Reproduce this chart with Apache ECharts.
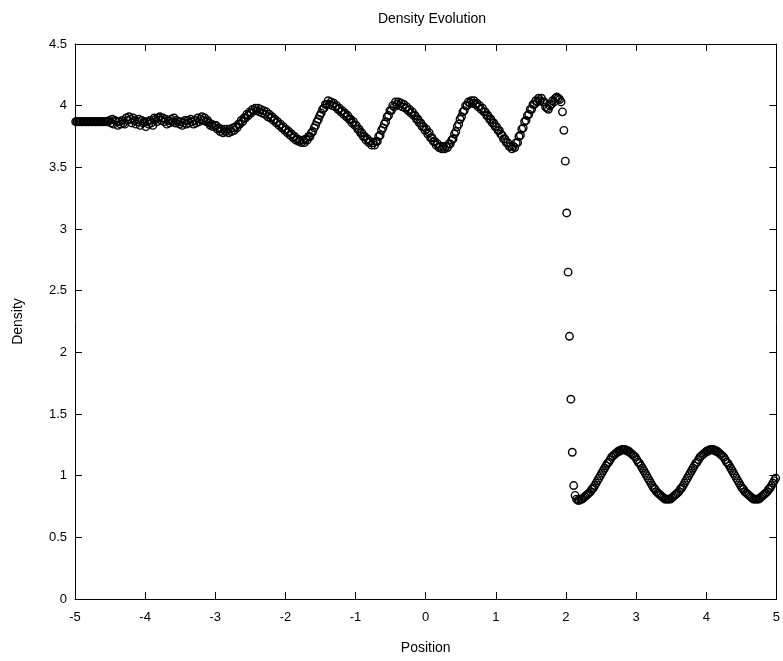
<!DOCTYPE html>
<html>
<head>
<meta charset="utf-8">
<title>Density Evolution</title>
<script src="https://cdn.jsdelivr.net/npm/echarts@6/dist/echarts.min.js"></script>
<style>
  html, body { margin: 0; padding: 0; background: #fff; }
  #chart { width: 783px; height: 661px; }
</style>
</head>
<body>
<div id="chart"></div>
<script>
// Cell-centre positions of the mesh (500 cells on [-5, 5])
const positions = [
  -4.99,-4.97,-4.95,-4.93,-4.91,-4.89,-4.87,-4.85,-4.83,-4.81,
  -4.79,-4.77,-4.75,-4.73,-4.71,-4.69,-4.67,-4.65,-4.63,-4.61,
  -4.59,-4.57,-4.55,-4.53,-4.51,-4.49,-4.47,-4.45,-4.43,-4.41,
  -4.39,-4.37,-4.35,-4.33,-4.31,-4.29,-4.27,-4.25,-4.23,-4.21,
  -4.19,-4.17,-4.15,-4.13,-4.11,-4.09,-4.07,-4.05,-4.03,-4.01,
  -3.99,-3.97,-3.95,-3.93,-3.91,-3.89,-3.87,-3.85,-3.83,-3.81,
  -3.79,-3.77,-3.75,-3.73,-3.71,-3.69,-3.67,-3.65,-3.63,-3.61,
  -3.59,-3.57,-3.55,-3.53,-3.51,-3.49,-3.47,-3.45,-3.43,-3.41,
  -3.39,-3.37,-3.35,-3.33,-3.31,-3.29,-3.27,-3.25,-3.23,-3.21,
  -3.19,-3.17,-3.15,-3.13,-3.11,-3.09,-3.07,-3.05,-3.03,-3.01,
  -2.99,-2.97,-2.95,-2.93,-2.91,-2.89,-2.87,-2.85,-2.83,-2.81,
  -2.79,-2.77,-2.75,-2.73,-2.71,-2.69,-2.67,-2.65,-2.63,-2.61,
  -2.59,-2.57,-2.55,-2.53,-2.51,-2.49,-2.47,-2.45,-2.43,-2.41,
  -2.39,-2.37,-2.35,-2.33,-2.31,-2.29,-2.27,-2.25,-2.23,-2.21,
  -2.19,-2.17,-2.15,-2.13,-2.11,-2.09,-2.07,-2.05,-2.03,-2.01,
  -1.99,-1.97,-1.95,-1.93,-1.91,-1.89,-1.87,-1.85,-1.83,-1.81,
  -1.79,-1.77,-1.75,-1.73,-1.71,-1.69,-1.67,-1.65,-1.63,-1.61,
  -1.59,-1.57,-1.55,-1.53,-1.51,-1.49,-1.47,-1.45,-1.43,-1.41,
  -1.39,-1.37,-1.35,-1.33,-1.31,-1.29,-1.27,-1.25,-1.23,-1.21,
  -1.19,-1.17,-1.15,-1.13,-1.11,-1.09,-1.07,-1.05,-1.03,-1.01,
  -0.99,-0.97,-0.95,-0.93,-0.91,-0.89,-0.87,-0.85,-0.83,-0.81,
  -0.79,-0.77,-0.75,-0.73,-0.71,-0.69,-0.67,-0.65,-0.63,-0.61,
  -0.59,-0.57,-0.55,-0.53,-0.51,-0.49,-0.47,-0.45,-0.43,-0.41,
  -0.39,-0.37,-0.35,-0.33,-0.31,-0.29,-0.27,-0.25,-0.23,-0.21,
  -0.19,-0.17,-0.15,-0.13,-0.11,-0.09,-0.07,-0.05,-0.03,-0.01,
  0.01,0.03,0.05,0.07,0.09,0.11,0.13,0.15,0.17,0.19,
  0.21,0.23,0.25,0.27,0.29,0.31,0.33,0.35,0.37,0.39,
  0.41,0.43,0.45,0.47,0.49,0.51,0.53,0.55,0.57,0.59,
  0.61,0.63,0.65,0.67,0.69,0.71,0.73,0.75,0.77,0.79,
  0.81,0.83,0.85,0.87,0.89,0.91,0.93,0.95,0.97,0.99,
  1.01,1.03,1.05,1.07,1.09,1.11,1.13,1.15,1.17,1.19,
  1.21,1.23,1.25,1.27,1.29,1.31,1.33,1.35,1.37,1.39,
  1.41,1.43,1.45,1.47,1.49,1.51,1.53,1.55,1.57,1.59,
  1.61,1.63,1.65,1.67,1.69,1.71,1.73,1.75,1.77,1.79,
  1.81,1.83,1.85,1.87,1.89,1.91,1.93,1.95,1.97,1.99,
  2.01,2.03,2.05,2.07,2.09,2.11,2.13,2.15,2.17,2.19,
  2.21,2.23,2.25,2.27,2.29,2.31,2.33,2.35,2.37,2.39,
  2.41,2.43,2.45,2.47,2.49,2.51,2.53,2.55,2.57,2.59,
  2.61,2.63,2.65,2.67,2.69,2.71,2.73,2.75,2.77,2.79,
  2.81,2.83,2.85,2.87,2.89,2.91,2.93,2.95,2.97,2.99,
  3.01,3.03,3.05,3.07,3.09,3.11,3.13,3.15,3.17,3.19,
  3.21,3.23,3.25,3.27,3.29,3.31,3.33,3.35,3.37,3.39,
  3.41,3.43,3.45,3.47,3.49,3.51,3.53,3.55,3.57,3.59,
  3.61,3.63,3.65,3.67,3.69,3.71,3.73,3.75,3.77,3.79,
  3.81,3.83,3.85,3.87,3.89,3.91,3.93,3.95,3.97,3.99,
  4.01,4.03,4.05,4.07,4.09,4.11,4.13,4.15,4.17,4.19,
  4.21,4.23,4.25,4.27,4.29,4.31,4.33,4.35,4.37,4.39,
  4.41,4.43,4.45,4.47,4.49,4.51,4.53,4.55,4.57,4.59,
  4.61,4.63,4.65,4.67,4.69,4.71,4.73,4.75,4.77,4.79,
  4.81,4.83,4.85,4.87,4.89,4.91,4.93,4.95,4.97,4.99
];

// Density in each cell
const density = [
  3.87,3.87,3.87,3.87,3.87,3.87,3.87,3.87,3.87,3.87,
  3.87,3.87,3.87,3.87,3.87,3.87,3.87,3.87,3.87,3.87,
  3.87,3.87,3.87,3.87,3.88,3.86,3.89,3.85,3.88,3.87,
  3.84,3.87,3.85,3.88,3.86,3.85,3.90,3.88,3.91,3.89,
  3.86,3.90,3.88,3.85,3.87,3.89,3.84,3.88,3.86,3.87,
  3.83,3.87,3.85,3.88,3.86,3.84,3.90,3.89,3.87,3.90,
  3.91,3.88,3.90,3.87,3.89,3.85,3.88,3.86,3.89,3.87,
  3.90,3.86,3.88,3.87,3.85,3.87,3.84,3.86,3.88,3.85,
  3.88,3.86,3.89,3.87,3.85,3.88,3.86,3.90,3.87,3.89,
  3.91,3.88,3.90,3.87,3.88,3.86,3.84,3.85,3.83,3.84,
  3.84,3.81,3.82,3.79,3.81,3.78,3.81,3.79,3.81,3.78,
  3.81,3.79,3.82,3.80,3.83,3.82,3.85,3.85,3.88,3.87,
  3.90,3.90,3.93,3.92,3.95,3.94,3.97,3.96,3.98,3.96,
  3.98,3.95,3.97,3.94,3.96,3.93,3.95,3.91,3.93,3.90,
  3.91,3.88,3.89,3.86,3.87,3.84,3.85,3.82,3.83,3.80,
  3.81,3.78,3.79,3.76,3.77,3.74,3.75,3.72,3.73,3.71,
  3.72,3.70,3.72,3.70,3.73,3.72,3.75,3.75,3.78,3.79,
  3.82,3.84,3.87,3.89,3.92,3.94,3.97,3.98,4.01,4.01,
  4.04,4.01,4.03,4.00,4.02,3.99,4.00,3.97,3.98,3.95,
  3.96,3.93,3.94,3.91,3.92,3.89,3.89,3.86,3.87,3.84,
  3.84,3.81,3.81,3.78,3.78,3.75,3.75,3.72,3.73,3.70,
  3.71,3.68,3.70,3.68,3.71,3.71,3.75,3.76,3.80,3.82,
  3.85,3.87,3.91,3.92,3.96,3.96,4.00,3.99,4.03,4.01,
  4.03,4.00,4.02,3.99,4.01,3.98,3.99,3.96,3.97,3.94,
  3.95,3.92,3.92,3.89,3.89,3.86,3.86,3.83,3.83,3.80,
  3.81,3.77,3.78,3.74,3.74,3.71,3.71,3.68,3.69,3.66,
  3.67,3.65,3.67,3.65,3.67,3.66,3.69,3.69,3.72,3.73,
  3.77,3.79,3.83,3.85,3.89,3.91,3.95,3.96,4.00,4.00,
  4.03,4.02,4.04,4.02,4.04,4.01,4.02,3.99,4.00,3.97,
  3.98,3.95,3.95,3.92,3.92,3.89,3.89,3.86,3.86,3.83,
  3.83,3.80,3.80,3.77,3.76,3.73,3.73,3.70,3.70,3.67,
  3.67,3.65,3.67,3.66,3.70,3.70,3.75,3.76,3.81,3.82,
  3.87,3.88,3.92,3.93,3.97,3.97,4.01,4.01,4.04,4.03,
  4.06,4.04,4.06,4.03,4.03,3.99,3.98,3.97,4.00,4.01,
  4.04,4.03,4.06,4.07,4.06,4.05,4.03,3.95,3.80,3.55,
  3.13,2.65,2.13,1.62,1.19,0.92,0.84,0.81,0.80,0.80,
  0.81,0.81,0.82,0.83,0.84,0.85,0.86,0.87,0.89,0.90,
  0.92,0.94,0.96,0.98,1.00,1.02,1.04,1.06,1.08,1.10,
  1.11,1.13,1.15,1.16,1.17,1.18,1.19,1.20,1.20,1.21,
  1.21,1.21,1.21,1.20,1.20,1.19,1.18,1.17,1.16,1.15,
  1.13,1.11,1.10,1.08,1.06,1.04,1.02,1.00,0.98,0.96,
  0.94,0.92,0.90,0.89,0.87,0.86,0.85,0.84,0.83,0.82,
  0.81,0.81,0.81,0.81,0.81,0.82,0.83,0.84,0.85,0.86,
  0.87,0.89,0.90,0.92,0.94,0.96,0.98,1.00,1.02,1.04,
  1.06,1.08,1.10,1.11,1.13,1.15,1.16,1.17,1.18,1.19,
  1.20,1.20,1.21,1.21,1.21,1.21,1.20,1.20,1.19,1.18,
  1.17,1.16,1.15,1.13,1.11,1.10,1.08,1.06,1.04,1.02,
  1.00,0.98,0.96,0.94,0.92,0.90,0.89,0.87,0.86,0.85,
  0.84,0.83,0.82,0.81,0.81,0.81,0.81,0.81,0.82,0.83,
  0.84,0.85,0.86,0.87,0.89,0.90,0.92,0.94,0.96,0.98
];

const xTicks = [-5, -4, -3, -2, -1, 0, 1, 2, 3, 4, 5];
const yTicks = [0, 0.5, 1, 1.5, 2, 2.5, 3, 3.5, 4, 4.5];

const points = positions.map((x, i) => [x, density[i]]);

const FONT = 'Liberation Sans';
const axisBase = {
  axisLine: { show: true, onZero: false, lineStyle: { color: '#000', width: 1 } },
  axisTick: { show: true, inside: true, length: 7, lineStyle: { color: '#000', width: 1 } },
  splitLine: { show: false }
};

const chart = echarts.init(document.getElementById('chart'), null, { renderer: 'canvas' });
chart.setOption({
  animation: false,
  backgroundColor: '#fff',
  title: {
    text: 'Density Evolution',
    left: 427,
    top: 7,
    textAlign: 'center',
    textStyle: { fontFamily: FONT, fontSize: 14, fontWeight: 'normal', color: '#000' }
  },
  grid: { left: 75, right: 3, top: 44, bottom: 62, containLabel: false },
  xAxis: [
    Object.assign({}, axisBase, {
      type: 'value', position: 'bottom',
      min: xTicks[0], max: xTicks[xTicks.length - 1], interval: 1,
      name: 'Position', nameLocation: 'middle', nameGap: 42,
      nameTextStyle: { fontFamily: FONT, fontSize: 14, color: '#000' },
      axisLabel: { fontFamily: FONT, fontSize: 13, color: '#000', margin: 12 }
    }),
    Object.assign({}, axisBase, {
      type: 'value', position: 'top',
      min: xTicks[0], max: xTicks[xTicks.length - 1], interval: 1,
      axisLabel: { show: false }
    })
  ],
  yAxis: [
    Object.assign({}, axisBase, {
      type: 'value', position: 'left',
      min: yTicks[0], max: yTicks[yTicks.length - 1], interval: 0.5,
      name: 'Density', nameLocation: 'middle', nameGap: 50, nameRotate: 90,
      nameTextStyle: { fontFamily: FONT, fontSize: 14, color: '#000' },
      axisLabel: { fontFamily: FONT, fontSize: 13, color: '#000', margin: 8 }
    }),
    Object.assign({}, axisBase, {
      type: 'value', position: 'right',
      min: yTicks[0], max: yTicks[yTicks.length - 1], interval: 0.5,
      axisLabel: { show: false }
    })
  ],
  series: [{
    type: 'scatter',
    data: points,
    symbol: 'circle',
    symbolSize: 7.5,
    clip: false,
    itemStyle: { color: 'rgba(0,0,0,0)', borderColor: '#000', borderWidth: 1.4, opacity: 1 },
    emphasis: { disabled: true }
  }]
});
</script>
</body>
</html>
